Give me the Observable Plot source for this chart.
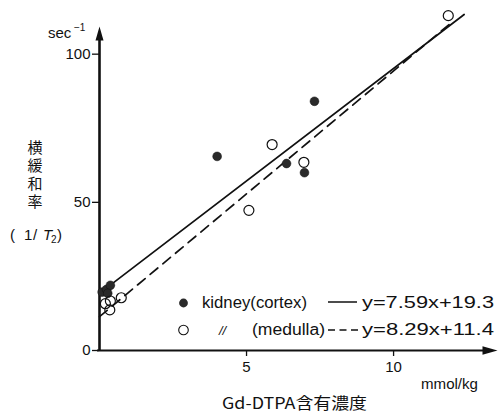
<!DOCTYPE html>
<html><head><meta charset="utf-8">
<script src="https://cdn.jsdelivr.net/npm/d3@7"></script>
<script src="https://cdn.jsdelivr.net/npm/@observablehq/plot@0.6"></script>
<style>body{margin:0;background:#fff} #chart{width:503px;height:417px}</style>
</head><body><div id="chart"></div>
<script>
// data
const cortexX = [0.09, 0.24, 0.37, 0.28, 4.0, 6.36, 6.97, 7.31];
const cortexY = [19.7, 20.6, 22.0, 19.3, 65.5, 63.1, 60.0, 84.1];
const medullaX = [0.2, 0.37, 0.35, 0.74, 5.08, 5.87, 6.95, 11.86];
const medullaY = [15.8, 16.7, 13.7, 17.8, 47.3, 69.5, 63.5, 113];
const cortexFitX = [0, 12.4], cortexFitY = [19.3, 113.4];
const medullaFitX = [0, 11.9], medullaFitY = [11.4, 110.1];
const xTicks = [5, 10];
const yTicks = [0, 50, 100];
const xDomain = [0, 13.5];
const yDomain = [0, 109];
const legendNames = ["kidney(cortex)", "(medulla)"];
const legendEq = ["y=7.59x+19.3", "y=8.29x+11.4"];
const yLabel = "横緩和率";
const xTitle = "Gd-DTPA含有濃度";
const xUnit = "mmol/kg";

const zip = (xs, ys) => xs.map((x, i) => ({x, y: ys[i]}));
const cortex = zip(cortexX, cortexY);
const medulla = zip(medullaX, medullaY);
const cortexFit = zip(cortexFitX, cortexFitY);
const medullaFit = zip(medullaFitX, medullaFitY);

const arrowRight = {draw(ctx) { ctx.moveTo(1, 0); ctx.lineTo(-14, -4.2); ctx.lineTo(-14, 4.2); ctx.closePath(); }};
const arrowUp = {draw(ctx) { ctx.moveTo(0, -1); ctx.lineTo(-4, 13); ctx.lineTo(4, 13); ctx.closePath(); }};

const font = "'Liberation Sans', Arial, sans-serif";

const svg = Plot.plot({
  width: 503, height: 417,
  marginLeft: 99, marginRight: 7, marginTop: 27, marginBottom: 67,
  x: {domain: xDomain},
  y: {domain: yDomain},
  style: {fontFamily: font, background: "white", color: "#111"},
  marks: [
    Plot.ruleY([yDomain[0]], {x1: xDomain[0] - 0.07, x2: xDomain[1] - 0.3, stroke: "#111", strokeWidth: 2}),
    Plot.ruleX([xDomain[0]], {y1: yDomain[0], y2: yDomain[1] - 3, stroke: "#111", strokeWidth: 2.6}),
    Plot.dot([{x: xDomain[1], y: yDomain[0]}], {x: "x", y: "y", symbol: arrowRight, fill: "#111", stroke: null}),
    Plot.dot([{x: xDomain[0], y: yDomain[1]}], {x: "x", y: "y", symbol: arrowUp, fill: "#111", stroke: null}),
    Plot.axisY(yTicks, {tickSize: 7, tickPadding: 2, fontSize: 15, label: null, strokeWidth: 1.3, tickFormat: d => String(d)}),
    Plot.axisX(xTicks, {tickSize: 6, tickPadding: 5, fontSize: 15, label: null, strokeWidth: 1.3, tickFormat: d => String(d)}),
    Plot.line(cortexFit, {x: "x", y: "y", stroke: "#111", strokeWidth: 1.7}),
    Plot.line(medullaFit, {x: "x", y: "y", stroke: "#111", strokeWidth: 1.7, strokeDasharray: "10,6.5"}),
    Plot.dot(cortex, {x: "x", y: "y", r: 4.4, fill: "#2a2a2a", stroke: "#111", strokeWidth: 0.5}),
    Plot.dot(medulla, {x: "x", y: "y", r: 5, fill: "none", stroke: "#111", strokeWidth: 1.2})
  ]
});

const s = d3.select(svg);
const txt = (x, y, t, o = {}) => {
  const e = s.append("text").attr("x", x).attr("y", y).text(t)
    .attr("font-family", o.family || font).attr("font-size", o.size || 15)
    .attr("fill", "#111").attr("text-anchor", o.anchor || "start");
  if (o.len) e.attr("textLength", o.len).attr("lengthAdjust", "spacingAndGlyphs");
  if (o.italic) e.attr("font-style", "italic");
  return e;
};

// top unit
txt(48, 38, "sec", {size: 15});
txt(74, 31, "−1", {size: 10});
// y label (vertical writing)
const cjk = "'Noto Sans CJK JP', 'Noto Sans CJK SC', sans-serif";
s.append("text").attr("x", 35).attr("y", 176).text(yLabel)
  .attr("font-family", cjk).attr("font-size", 15).attr("fill", "#111")
  .attr("writing-mode", "vertical-rl").attr("letter-spacing", 3);
txt(10, 240, "(", {size: 15});
txt(24, 240, "1", {size: 15});
txt(33, 240, "/", {size: 15});
txt(43, 240, "T", {size: 15, italic: true});
txt(51, 243, "2", {size: 10});
txt(57, 240, ")", {size: 15});
// x unit and title
txt(421, 389, xUnit, {size: 15, len: 57});
txt(222, 409, xTitle, {family: cjk, size: 16, len: 145});

// legend
const ly = [303, 330];
s.append("circle").attr("cx", 183.5).attr("cy", ly[0]).attr("r", 4.4).attr("fill", "#2a2a2a");
s.append("circle").attr("cx", 183.5).attr("cy", ly[1]).attr("r", 4.8).attr("fill", "none").attr("stroke", "#111").attr("stroke-width", 1.1);
txt(202, ly[0] + 5, legendNames[0], {size: 16, len: 105});
txt(219, ly[1] + 5, "//", {size: 13, italic: true});
txt(252, ly[1] + 5, legendNames[1], {size: 16, len: 73});
s.append("line").attr("x1", 328).attr("x2", 357).attr("y1", ly[0] - 1).attr("y2", ly[0] - 1).attr("stroke", "#111").attr("stroke-width", 1.5);
s.append("line").attr("x1", 328).attr("x2", 358).attr("y1", ly[1]).attr("y2", ly[1]).attr("stroke", "#111").attr("stroke-width", 1.5).attr("stroke-dasharray", "7,4.5");
txt(362, ly[0] + 5, legendEq[0], {size: 16, len: 132});
txt(362, ly[1] + 5, legendEq[1], {size: 16, len: 132});

document.getElementById("chart").appendChild(svg);
</script></body></html>
